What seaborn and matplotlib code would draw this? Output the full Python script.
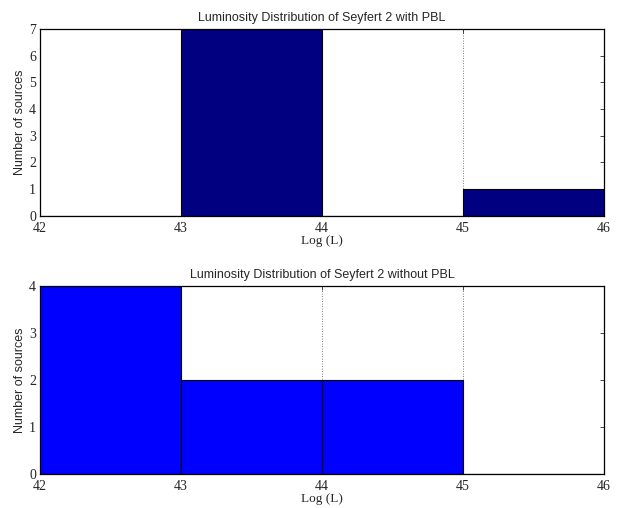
import matplotlib
matplotlib.use("Agg")
import matplotlib.pyplot as plt
import seaborn as sns

# bin edges and counts for the two luminosity histograms
edges = [42, 43, 44, 45, 46]
centers = [42.5, 43.5, 44.5, 45.5]
with_pbl = [0, 7, 0, 1]
without_pbl = [4, 2, 2, 0]

sns.set_style("white")
serif = ["Liberation Serif", "DejaVu Serif"]
sans = ["Liberation Sans", "DejaVu Sans"]

fig = plt.figure(figsize=(6.26, 5.08), dpi=100)
ax1 = fig.add_axes([0.064, 0.575, 0.901, 0.368])
ax2 = fig.add_axes([0.064, 0.067, 0.901, 0.370])

def panel(ax, counts, color, title, ymax):
    ax.set_axisbelow(True)
    ax.grid(axis="x", linestyle=(0, (1, 2)), color="#555555", linewidth=0.6)
    sns.histplot(x=centers, weights=counts, bins=edges, color=color, alpha=1,
                 edgecolor="black", linewidth=0.8, ax=ax, zorder=2)
    ax.set_xlim(42, 46)
    ax.set_ylim(0, ymax)
    ax.set_xticks(edges)
    ax.set_yticks(range(ymax + 1))
    ax.tick_params(direction="in", top=True, right=True, length=3, width=0.6,
                   labelsize=10)
    ax.tick_params(axis="x", pad=4.5)
    ax.tick_params(axis="y", pad=3)
    for lab in ax.get_xticklabels() + ax.get_yticklabels():
        lab.set_family(serif)
    for s in ax.spines.values():
        s.set_linewidth(0.9)
        s.set_color("black")
    ax.set_title(title, family=sans, fontsize=9, pad=6)
    ax.set_xlabel("Log (L)", family=serif, fontsize=9.5, labelpad=0)
    ax.set_ylabel("Number of sources", family=sans, fontsize=9, labelpad=2)

panel(ax1, with_pbl, "#000080", "Luminosity Distribution of Seyfert 2 with PBL", 7)
panel(ax2, without_pbl, "#0000FF", "Luminosity Distribution of Seyfert 2 without PBL", 4)

fig.savefig("out.png", dpi=100)
